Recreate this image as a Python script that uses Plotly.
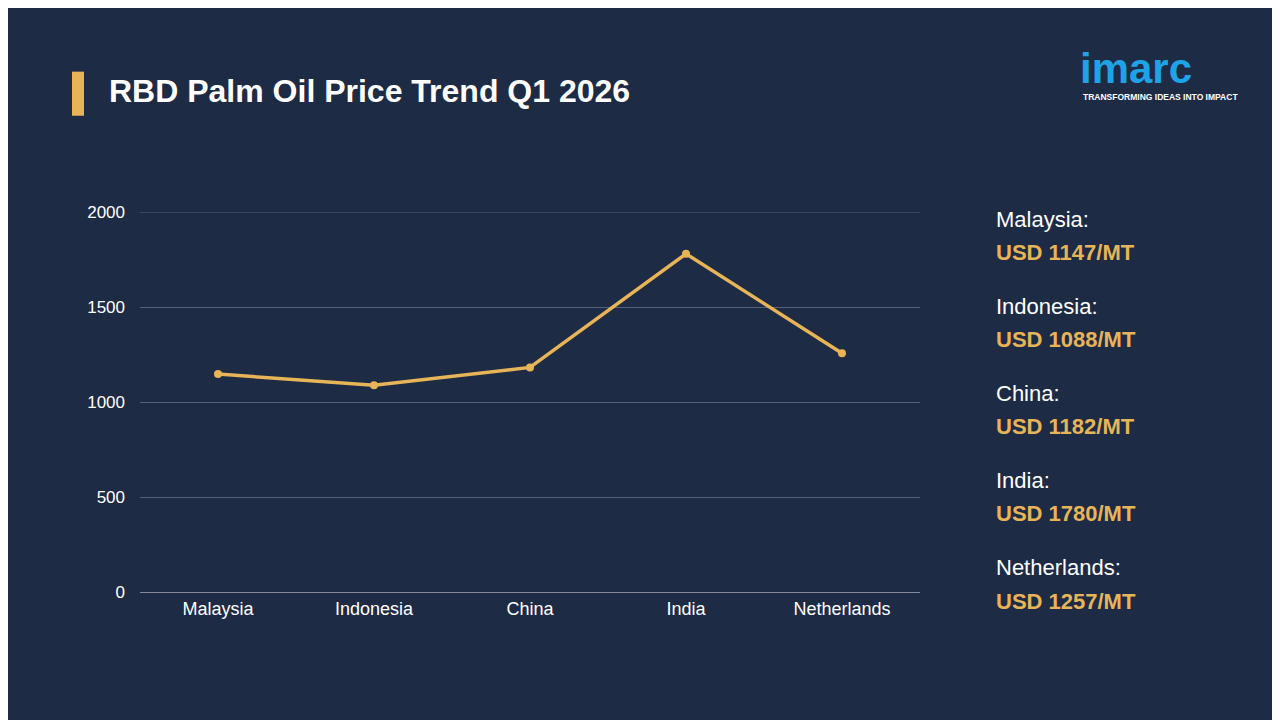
import plotly.graph_objects as go

countries = ["Malaysia", "Indonesia", "China", "India", "Netherlands"]
prices = [1147, 1088, 1182, 1780, 1257]
yticks = [0, 500, 1000, 1500, 2000]

gold = "#e8b458"
fig = go.Figure()
fig.add_trace(go.Scatter(x=countries, y=prices, mode="lines+markers",
                         line=dict(color=gold, width=3.5),
                         marker=dict(color=gold, size=8), showlegend=False,
                         cliponaxis=False))

fig.update_layout(
    width=1280, height=720,
    paper_bgcolor="#1d2b45", plot_bgcolor="rgba(0,0,0,0)",
    margin=dict(l=132, r=368, t=204, b=136),
    font=dict(family="Liberation Sans, Arial", color="white"),
    xaxis=dict(range=[-0.5, 4.5], showgrid=False, tickfont=dict(size=18, color="white"),
               showline=True, linecolor="rgba(200,200,210,0.6)", ticks=""),
    yaxis=dict(range=[0, 2000], tickvals=yticks, tickfont=dict(size=17, color="white"),
               gridcolor="rgba(200,200,210,0.35)", zeroline=False, ticks="", ticklen=0),
)
fig.update_yaxes(ticklabelstandoff=14)

shapes = [dict(type="rect", xref="paper", yref="paper", x0=-68/780, x1=-56/780,
               y0=(720-128-117)/379, y1=(720-128-73)/379, fillcolor=gold, line_width=0),
          dict(type="line", xref="paper", yref="y", x0=0, x1=1, y0=yticks[-1], y1=yticks[-1],
               line=dict(color="rgba(200,200,210,0.35)", width=1), layer="below")]
fig.update_layout(shapes=shapes)

ann = [dict(text="<b>RBD Palm Oil Price Trend Q1 2026</b>", xref="paper", yref="paper",
            x=-33/780, y=(592-92)/379, xanchor="left", yanchor="middle", showarrow=False,
            font=dict(size=32, color="white"))]
y0 = 220
for i, (c, p) in enumerate(zip(countries, prices)):
    yy = y0 + i * 87
    ann.append(dict(text=f"{c}:", xref="paper", yref="paper", x=854/780, y=(592-yy)/379,
                    xanchor="left", yanchor="middle", showarrow=False, font=dict(size=22, color="white")))
    ann.append(dict(text=f"<b>USD {p}/MT</b>", xref="paper", yref="paper", x=854/780, y=(592-yy-33)/379,
                    xanchor="left", yanchor="middle", showarrow=False, font=dict(size=22, color=gold)))
ann.append(dict(text="<b>imarc</b>", xref="paper", yref="paper", x=(1078-140)/780, y=(592-70)/379,
                xanchor="left", yanchor="middle", showarrow=False, font=dict(size=42, color="#1fa3e8")))
ann.append(dict(text="<b>TRANSFORMING IDEAS INTO IMPACT</b>", xref="paper", yref="paper", x=(1081-140)/780, y=(592-98)/379,
                xanchor="left", yanchor="middle", showarrow=False, font=dict(size=8.5, color="white")))
fig.update_layout(annotations=ann)
fig.write_html("out.html")
